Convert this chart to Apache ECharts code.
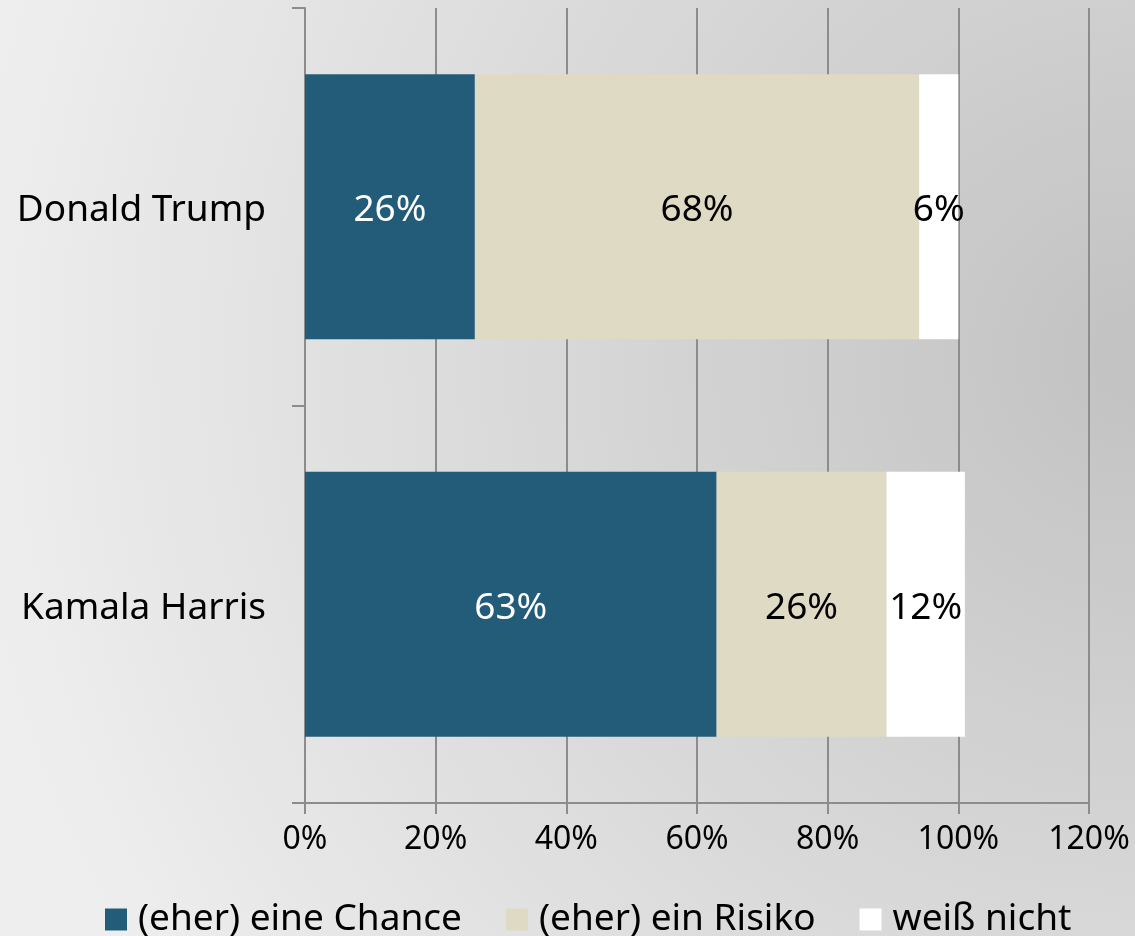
<!DOCTYPE html>
<html>
<head>
<meta charset="utf-8">
<script src="https://cdn.jsdelivr.net/npm/echarts@6/dist/echarts.min.js"></script>
<style>
  html, body { margin: 0; padding: 0; }
  #chart { width: 1135px; height: 936px; }
</style>
</head>
<body>
<div id="chart"></div>
<script>
// Chance oder Risiko? · Angaben in %
const categories = ['Donald Trump', 'Kamala Harris']
const seriesNames = ['(eher) eine Chance', '(eher) ein Risiko', 'weiß nicht']
const chance = [26, 63]
const risiko = [68, 26]
const weissNicht = [6, 12]
const xTicks = [0, 20, 40, 60, 80, 100, 120]

const font = 'Noto Sans'
const gridColor = '#8c8c8c'
const colors = ['#235c78', '#dfdac4', '#ffffff']

const chart = echarts.init(document.getElementById('chart'), null, { renderer: 'canvas' })

function barSeries(name, data, color, labelColor) {
  return {
    name,
    type: 'bar',
    stack: 'total',
    barWidth: 265,
    data,
    itemStyle: { color },
    label: {
      show: true,
      position: 'inside',
      offset: [0, 4],
      formatter: '{c}%',
      color: labelColor,
      fontFamily: font,
      fontSize: 37,
    },
  }
}

chart.setOption({
  backgroundColor: new echarts.graphic.RadialGradient(1, 0.38, 1.25, [
    { offset: 0, color: '#c2c2c2' },
    { offset: 1, color: '#eeeeee' },
  ]),
  textStyle: { fontFamily: font },
  grid: { left: 305, right: 46, top: 8, bottom: 133 },
  legend: {
    data: seriesNames,
    left: 100,
    top: 896,
    icon: 'rect',
    itemWidth: 22,
    itemHeight: 22,
    itemGap: 44,
    textStyle: { color: '#000', fontSize: 37, fontFamily: font, padding: [0, 0, 0, 6] },
  },
  xAxis: {
    type: 'value',
    min: xTicks[0],
    max: xTicks[xTicks.length - 1],
    interval: 20,
    axisLine: { show: true, lineStyle: { color: gridColor, width: 2 } },
    axisTick: { show: true, length: 11, lineStyle: { color: gridColor, width: 2 } },
    axisLabel: { color: '#000', fontSize: 32, fontFamily: font, margin: 21, formatter: '{value}%' },
    splitLine: { show: true, lineStyle: { color: gridColor, width: 2 } },
  },
  yAxis: {
    type: 'category',
    inverse: true,
    data: categories,
    axisLine: { show: true, lineStyle: { color: gridColor, width: 2 } },
    axisTick: { show: true, length: 13, lineStyle: { color: gridColor, width: 2 } },
    axisLabel: {
      margin: 39,
      formatter: (v) => '{name|' + v + '}',
      rich: {
        name: { color: '#000', fontSize: 37, fontFamily: font, lineHeight: 37, padding: [8, 0, 0, 0] },
      },
    },
  },
  series: [
    barSeries(seriesNames[0], chance, colors[0], '#ffffff'),
    barSeries(seriesNames[1], risiko, colors[1], '#000000'),
    barSeries(seriesNames[2], weissNicht, colors[2], '#000000'),
  ],
})
</script>
</body>
</html>
